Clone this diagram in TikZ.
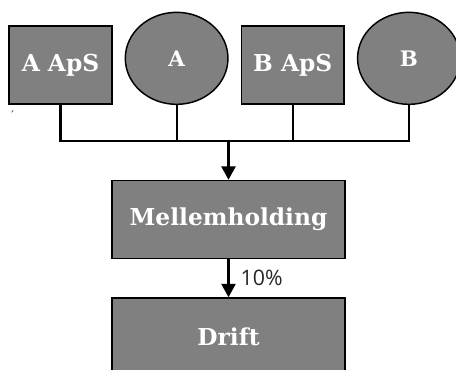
\documentclass[tikz,border=0pt]{standalone}
\usepackage{fontspec}
\setmainfont{DejaVu Serif}
\newfontfamily\pctfont{Open Sans}
\usetikzlibrary{arrows.meta,positioning,shapes.geometric,calc}
\definecolor{boxgray}{RGB}{128,128,128}

\begin{document}
\begin{tikzpicture}[
    x=0.75pt, y=-0.75pt,
    node distance=9pt,
    >={Triangle[width=10.5pt,length=10pt]},
    company/.style={
		rectangle,
		draw=black,
		line width=1.1pt,
		fill=boxgray,
		text=white,
		text centered,
		minimum width=77pt,
		minimum height=58.5pt,
		font=\bfseries\fontsize{17.5}{20}\selectfont
	},
	owner/.style={
		ellipse,
		draw=black,
		line width=1.1pt,
		fill=boxgray,
		text=white,
		inner sep=0pt,
		minimum width=77pt,
		minimum height=69pt,
		font=\bfseries\fontsize{16}{19}\selectfont
	},
	link/.style={
		line width=1.6pt
	}
  ]
    \useasboundingbox (0,0) rectangle (456,370);
    \clip (0,0) rectangle (456,370);

    % owners on the top row
    \node [company] (aaps) at (60.5,65) {A ApS};
    \node [owner, right=of aaps, yshift=5pt] (ownera) {A};
    \node [company, right=of ownera, yshift=-5pt] (baps) {B ApS};
    \node [owner, right=of baps, yshift=5pt] (ownerb) {B};

    \node [font=\fontsize{8}{9}\selectfont, inner sep=0pt] (tick) at (13,115) {\'{}};

    % holding and operating company
    \node [company, minimum width=175pt] (mell) at (228.5,219.5) {Mellemholding};
    \node [company, minimum width=175pt, below=28.5pt of mell] (drift) {Drift};

    \coordinate (bar) at ($(mell.north)+(0,-39)$);

    \draw [link] (aaps.south) |- (bar) -| (ownerb.south);
    \draw [link] (ownera.south) -- (ownera.south |- bar);
    \draw [link] (baps.south) -- (baps.south |- bar);
    \draw [link,->] (bar) -- (mell);
    \draw [link,->] (mell) -- node [right, xshift=5pt, text=black!85, font=\pctfont\fontsize{16}{19}\selectfont] (share) {10\%} (drift);

\end{tikzpicture}
\end{document}
